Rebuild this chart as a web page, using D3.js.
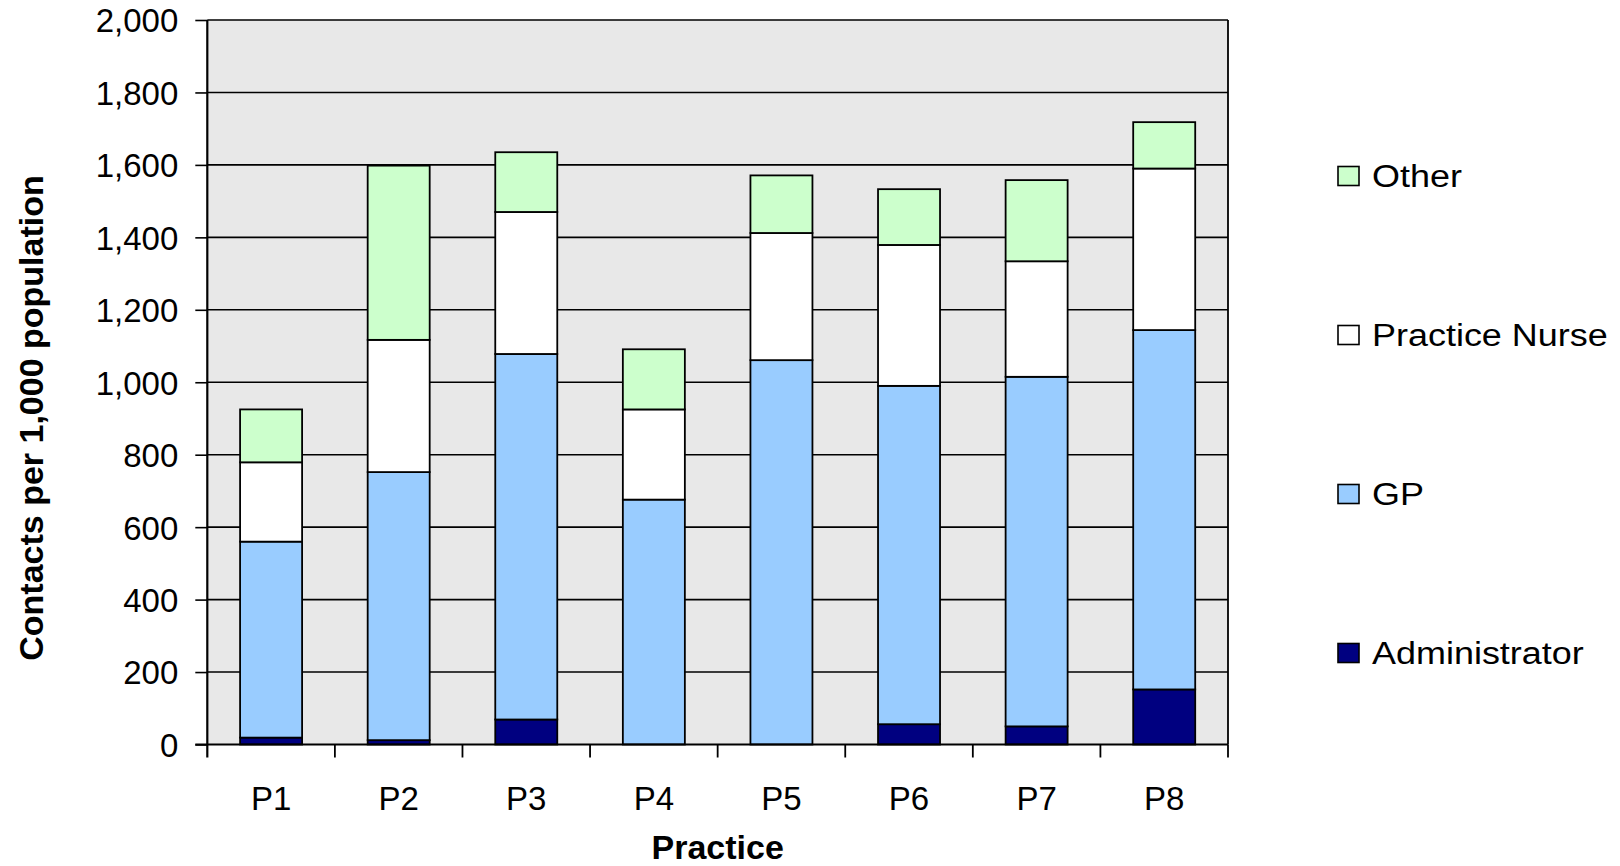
<!DOCTYPE html>
<html>
<head>
<meta charset="utf-8">
<script src="https://cdn.jsdelivr.net/npm/d3@7"></script>
<style>
  html, body { margin: 0; padding: 0; background: #ffffff; }
  svg { display: block; font-family: "Liberation Sans", Arial, Helvetica, sans-serif; }
</style>
</head>
<body>
<svg id="chart" width="1620" height="866"></svg>
<script>
// ---- Data ----
const categories = ["P1", "P2", "P3", "P4", "P5", "P6", "P7", "P8"];
const administrator = [19, 12, 69, 0, 0, 56, 50, 152];
const gp            = [541, 740, 1009, 676, 1061, 934, 965, 992];
const practiceNurse = [219, 365, 392, 249, 351, 389, 319, 446];
const other         = [146, 481, 165, 166, 159, 154, 224, 128];
const seriesNames = ["Administrator", "GP", "Practice Nurse", "Other"];
const yTickValues = [0, 200, 400, 600, 800, 1000, 1200, 1400, 1600, 1800, 2000];
const yTitle = "Contacts per 1,000 population";
const xTitle = "Practice";

// ---- Styling ----
const colors = {
  "Administrator": "#000080",
  "GP": "#99ccff",
  "Practice Nurse": "#ffffff",
  "Other": "#ccffcc"
};

const svg = d3.select("#chart");
const plot = { left: 207.3, right: 1228, top: 20, bottom: 744.5 };

const rows = categories.map((c, i) => ({
  cat: c,
  "Administrator": administrator[i],
  "GP": gp[i],
  "Practice Nurse": practiceNurse[i],
  "Other": other[i]
}));

const x = d3.scaleBand()
  .domain(categories)
  .range([plot.left, plot.right])
  .paddingInner(0.514)
  .paddingOuter(0.257);

const xEdges = d3.scaleBand().domain(categories).range([plot.left, plot.right]).padding(0);

const y = d3.scaleLinear().domain([0, 2000]).range([plot.bottom, plot.top]);

// plot background
svg.append("rect")
  .attr("x", plot.left).attr("y", plot.top)
  .attr("width", plot.right - plot.left)
  .attr("height", plot.bottom - plot.top)
  .attr("fill", "#e8e8e8");

// gridlines
svg.append("g")
  .selectAll("line")
  .data(yTickValues.filter(v => v > 0))
  .join("line")
  .attr("x1", plot.left).attr("x2", plot.right)
  .attr("y1", d => y(d)).attr("y2", d => y(d))
  .attr("stroke", "#000").attr("stroke-width", 1.6);

// right border
svg.append("line")
  .attr("x1", plot.right).attr("x2", plot.right)
  .attr("y1", plot.top).attr("y2", plot.bottom)
  .attr("stroke", "#000").attr("stroke-width", 1.8);

// stacked bars
const stack = d3.stack().keys(seriesNames);
const stacked = stack(rows);

svg.append("g")
  .selectAll("g")
  .data(stacked)
  .join("g")
  .attr("fill", d => colors[d.key])
  .selectAll("rect")
  .data(d => d.filter(s => s[1] - s[0] > 0))
  .join("rect")
  .attr("x", d => x(d.data.cat))
  .attr("width", x.bandwidth())
  .attr("y", d => y(d[1]))
  .attr("height", d => y(d[0]) - y(d[1]))
  .attr("stroke", "#000")
  .attr("stroke-width", 1.8);

// y axis
const yAxis = d3.axisLeft(y)
  .tickValues(yTickValues)
  .tickSize(12)
  .tickPadding(17)
  .tickFormat(d3.format(","));

const yg = svg.append("g")
  .attr("transform", `translate(${plot.left},0)`)
  .call(yAxis);
yg.select(".domain").remove();
yg.selectAll(".tick line").attr("stroke", "#000").attr("stroke-width", 1.6);
yg.selectAll(".tick text")
  .attr("fill", "#000")
  .attr("font-size", 33)
  .attr("dy", "0.36em")
  .attr("font-family", "'Liberation Sans', Arial, sans-serif");

// left axis line
svg.append("line")
  .attr("x1", plot.left).attr("x2", plot.left)
  .attr("y1", plot.top).attr("y2", plot.bottom + 13)
  .attr("stroke", "#000").attr("stroke-width", 2.2);

// x axis line
svg.append("line")
  .attr("x1", plot.left - 12).attr("x2", plot.right)
  .attr("y1", plot.bottom).attr("y2", plot.bottom)
  .attr("stroke", "#000").attr("stroke-width", 2.2);

// x ticks at category boundaries
svg.append("g")
  .selectAll("line")
  .data(categories.slice(1).concat(["__end"]))
  .join("line")
  .attr("x1", d => d === "__end" ? plot.right : xEdges(d))
  .attr("x2", d => d === "__end" ? plot.right : xEdges(d))
  .attr("y1", plot.bottom).attr("y2", plot.bottom + 13)
  .attr("stroke", "#000").attr("stroke-width", 1.8);

// x tick labels
svg.append("g")
  .selectAll("text")
  .data(categories)
  .join("text")
  .attr("x", d => x(d) + x.bandwidth() / 2)
  .attr("y", 810)
  .attr("text-anchor", "middle")
  .attr("font-size", 33)
  .attr("fill", "#000")
  .text(d => d);

// x title
svg.append("text")
  .attr("x", (plot.left + plot.right) / 2)
  .attr("y", 859)
  .attr("text-anchor", "middle")
  .attr("font-size", 34)
  .attr("font-weight", "bold")
  .attr("fill", "#000")
  .text(xTitle);

// y title
svg.append("text")
  .attr("transform", "translate(42.5,418) rotate(-90)")
  .attr("text-anchor", "middle")
  .attr("font-size", 34)
  .attr("font-weight", "bold")
  .attr("fill", "#000")
  .text(yTitle);

// legend
const legendOrder = ["Other", "Practice Nurse", "GP", "Administrator"];
const legendY = d3.scalePoint().domain(legendOrder).range([176, 653]);
const lg = svg.append("g")
  .selectAll("g")
  .data(legendOrder)
  .join("g")
  .attr("transform", d => `translate(1338,${legendY(d)})`);
lg.append("rect")
  .attr("x", 0).attr("y", -9.5)
  .attr("width", 21).attr("height", 19)
  .attr("fill", d => colors[d])
  .attr("stroke", "#000").attr("stroke-width", 1.6);
lg.append("text")
  .attr("transform", "translate(34,11) scale(1.16,1)")
  .attr("font-size", 31)
  .attr("fill", "#000")
  .text(d => d);
</script>
</body>
</html>
